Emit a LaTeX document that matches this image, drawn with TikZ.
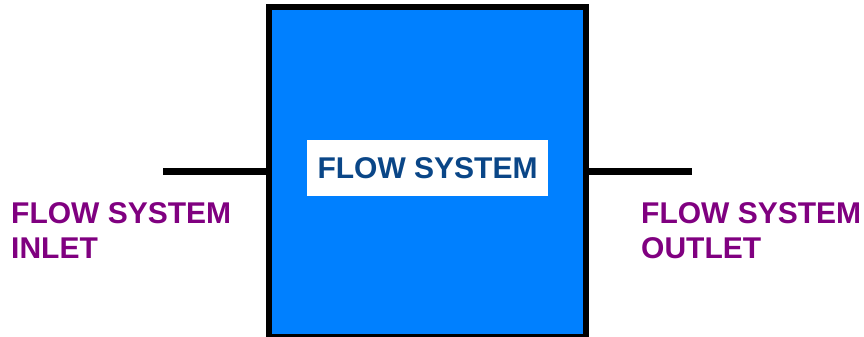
\documentclass[tikz,border=0pt]{standalone}
\usepackage{fontspec}
\setmainfont{Liberation Sans}
\definecolor{sysblue}{RGB}{0,128,255}
\definecolor{titleblue}{RGB}{10,70,135}
\definecolor{labelpurple}{RGB}{128,0,128}
\tikzset{
  sysbox/.style={draw=black, line width=6pt, fill=sysblue, inner sep=0pt,
    minimum width=317pt, minimum height=329.5pt},
  titlebox/.style={fill=white, inner sep=0pt, minimum width=241pt, minimum height=56pt,
    font=\fontsize{30}{34}\selectfont\bfseries, text=titleblue},
  pipe/.style={draw=black, line width=7pt},
  portlabel/.style={anchor=base west, inner sep=0pt, align=left,
    font=\fontsize{30}{35}\selectfont\bfseries, text=labelpurple}
}
\begin{document}
\begin{tikzpicture}[x=1pt,y=1pt]
  \useasboundingbox (0,0) rectangle (864,337);
  % the flow system block
  \node[sysbox] (sys) at (427.5,164.75) {};
  \node[titlebox] (title) at (427.5,169) {FLOW SYSTEM};
  % inlet and outlet pipes
  \coordinate (inend) at (163,165);
  \coordinate (outend) at (692,165);
  \draw[pipe] (inend) -- (inend -| sys.west);
  \draw[pipe] (outend -| sys.east) -- (outend);
  % port labels
  \node[portlabel] (inlabel) at (11,113) {FLOW SYSTEM};
  \node[portlabel] (inlabel2) at (11,78) {INLET};
  \node[portlabel] (outlabel) at (641,113) {FLOW SYSTEM};
  \node[portlabel] (outlabel2) at (641,78) {OUTLET};
\end{tikzpicture}
\end{document}
